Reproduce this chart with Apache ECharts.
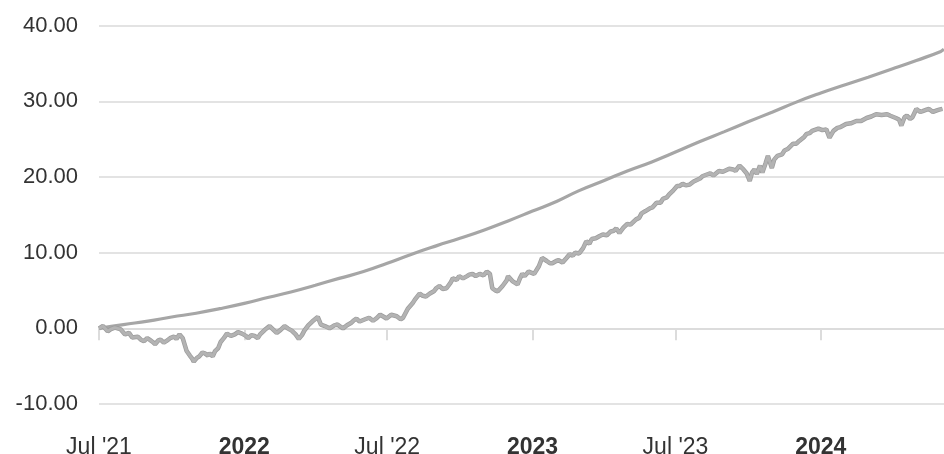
<!DOCTYPE html>
<html><head><meta charset="utf-8">
<script src="https://cdn.jsdelivr.net/npm/echarts@6/dist/echarts.min.js"></script>
<style>html,body{margin:0;padding:0;background:#fff}#c{width:944px;height:454px}</style>
</head><body><div id="c"></div>
<script>
// X-axis tick dates (half-yearly)
const tickDates = ['2021-07-01','2022-01-01','2022-07-01','2023-01-01','2023-07-01','2024-01-01'];
// Y-axis ticks
const yTicks = [-10, 0, 10, 20, 30, 40];

// Upper smooth line (monthly)
const upperDates = ['2021-07-01','2021-08-01','2021-09-01','2021-10-01','2021-11-01','2021-12-01',
'2022-01-01','2022-02-01','2022-03-01','2022-04-01','2022-05-01','2022-06-01','2022-07-01','2022-08-01','2022-09-01','2022-10-01','2022-11-01','2022-12-01',
'2023-01-01','2023-02-01','2023-03-01','2023-04-01','2023-05-01','2023-06-01','2023-07-01','2023-08-01','2023-09-01','2023-10-01','2023-11-01','2023-12-01',
'2024-01-01','2024-02-01','2024-03-01','2024-04-01','2024-05-01','2024-06-01','2024-06-05'];
const upperValues = [0.0,0.5,0.95,1.5,2.0,2.6,
3.3,4.1,4.8,5.7,6.6,7.5,8.6,9.8,10.9,11.9,13.0,14.2,
15.5,16.8,18.2,19.5,20.8,22.0,23.3,24.7,26.0,27.3,28.6,29.9,
31.1,32.2,33.2,34.3,35.4,36.6,36.9];

// Lower noisy line
const lowerDates = [
'2021-07-01','2021-07-06','2021-07-12','2021-07-16','2021-07-21','2021-07-28','2021-08-03','2021-08-08','2021-08-12','2021-08-19','2021-08-23','2021-08-27','2021-08-31',
'2021-09-03','2021-09-07','2021-09-10','2021-09-14','2021-09-17','2021-09-21','2021-09-24','2021-09-29','2021-10-04','2021-10-07','2021-10-11','2021-10-15','2021-10-20','2021-10-24',
'2021-10-27','2021-10-29','2021-11-02','2021-11-05','2021-11-09','2021-11-12','2021-11-16','2021-11-18','2021-11-22','2021-11-25','2021-11-29','2021-12-02','2021-12-06','2021-12-10',
'2021-12-15','2021-12-20','2021-12-24','2021-12-29',
'2022-01-03','2022-01-06','2022-01-10','2022-01-14','2022-01-18','2022-01-21','2022-01-27','2022-02-02','2022-02-07','2022-02-11','2022-02-16','2022-02-21','2022-02-25',
'2022-03-02','2022-03-07','2022-03-11','2022-03-15','2022-03-18','2022-03-23','2022-03-28','2022-04-04','2022-04-08','2022-04-13','2022-04-19','2022-04-25','2022-04-29',
'2022-05-03','2022-05-06','2022-05-11','2022-05-16','2022-05-19','2022-05-23','2022-05-27','2022-06-03','2022-06-08','2022-06-13','2022-06-17','2022-06-22','2022-06-27','2022-06-30',
'2022-07-06','2022-07-13','2022-07-18','2022-07-21','2022-07-27','2022-08-02','2022-08-05','2022-08-11','2022-08-15','2022-08-19','2022-08-24','2022-08-29',
'2022-09-01','2022-09-05','2022-09-09','2022-09-14','2022-09-19','2022-09-22','2022-09-27','2022-09-30','2022-10-05','2022-10-10','2022-10-13','2022-10-17','2022-10-21','2022-10-26','2022-10-31',
'2022-11-04','2022-11-08','2022-11-11','2022-11-15','2022-11-18','2022-11-24','2022-11-29','2022-12-01','2022-12-07','2022-12-13','2022-12-16','2022-12-19','2022-12-22','2022-12-27',
'2023-01-03','2023-01-09','2023-01-13','2023-01-19','2023-01-23','2023-01-26','2023-01-31','2023-02-03','2023-02-08','2023-02-13','2023-02-17','2023-02-21','2023-02-24',
'2023-03-01','2023-03-06','2023-03-10','2023-03-14','2023-03-17','2023-03-22','2023-03-27','2023-03-31','2023-04-05','2023-04-10','2023-04-14','2023-04-17','2023-04-21','2023-04-26',
'2023-05-01','2023-05-05','2023-05-09','2023-05-12','2023-05-16','2023-05-19','2023-05-24','2023-05-30','2023-06-02','2023-06-07','2023-06-12','2023-06-15','2023-06-20','2023-06-23','2023-06-28',
'2023-07-03','2023-07-06','2023-07-10','2023-07-14','2023-07-19','2023-07-24','2023-07-28','2023-08-01','2023-08-04','2023-08-09','2023-08-14','2023-08-18','2023-08-25','2023-08-30',
'2023-09-07','2023-09-12','2023-09-15','2023-09-20','2023-09-25','2023-09-29','2023-10-03','2023-10-06','2023-10-09','2023-10-12','2023-10-16','2023-10-19','2023-10-23','2023-10-26','2023-10-31',
'2023-11-03','2023-11-07','2023-11-13','2023-11-16','2023-11-20','2023-11-27','2023-12-01','2023-12-05','2023-12-11','2023-12-14','2023-12-18','2023-12-21','2023-12-29',
'2024-01-03','2024-01-08','2024-01-12','2024-01-17','2024-01-22','2024-01-26','2024-02-02','2024-02-08','2024-02-15','2024-02-21','2024-02-28','2024-03-05','2024-03-11','2024-03-18',
'2024-03-25','2024-03-29','2024-04-05','2024-04-09','2024-04-12','2024-04-16','2024-04-19','2024-04-23','2024-04-26','2024-05-01','2024-05-06','2024-05-09','2024-05-14','2024-05-17',
'2024-05-22','2024-05-27','2024-05-30','2024-06-03'];
const lowerValues = [
0.0,0.3,-0.4,-0.1,0.1,-0.1,-0.8,-0.6,-1.2,-1.1,-1.5,-1.7,-1.3,
-1.5,-1.8,-2.1,-1.6,-1.5,-1.9,-1.7,-1.3,-1.1,-1.4,-0.8,-1.3,-3.0,-3.6,
-4.0,-4.4,-3.9,-3.7,-3.2,-3.3,-3.6,-3.3,-3.7,-3.0,-2.6,-1.8,-1.3,-0.7,
-1.0,-0.8,-0.5,-0.7,
-1.0,-1.3,-0.9,-1.0,-1.3,-0.8,-0.2,0.3,-0.2,-0.6,-0.2,0.3,0.0,
-0.3,-0.8,-1.4,-0.9,-0.3,0.4,0.9,1.5,0.5,0.3,0.0,0.4,0.5,
0.2,0.0,0.4,0.7,1.0,1.3,0.9,1.2,1.4,1.0,1.3,1.8,1.5,1.3,
1.8,1.6,1.2,1.4,2.6,3.3,3.8,4.6,4.3,4.2,4.6,4.9,
5.3,5.6,5.2,5.3,6.0,6.6,6.4,6.9,6.6,6.9,7.1,7.2,6.9,7.2,7.0,
7.5,7.2,5.3,5.0,4.9,5.6,6.3,6.9,6.2,5.8,6.6,7.2,6.9,7.5,
7.2,8.2,9.3,8.9,8.6,8.6,8.9,9.0,8.7,9.3,9.8,9.6,10.0,
9.9,10.6,11.5,11.2,11.8,11.9,12.2,12.4,12.3,12.8,12.9,13.2,12.6,13.3,
13.8,13.7,14.1,14.4,14.6,15.2,15.5,15.9,16.0,16.6,16.6,17.1,17.3,17.7,18.2,
18.8,18.8,19.1,18.9,19.0,19.4,19.6,19.8,20.1,20.3,20.5,20.2,20.8,20.7,
21.1,21.0,20.8,21.5,21.0,20.5,19.5,20.6,21.0,20.4,21.5,20.6,21.8,22.8,21.2,
22.3,22.8,23.0,23.5,23.7,24.4,24.4,24.8,25.3,25.7,25.8,26.1,26.4,
26.2,26.3,25.2,26.1,26.5,26.6,27.0,27.1,27.4,27.4,27.8,28.0,28.3,28.2,
28.3,28.1,27.8,27.6,26.8,27.9,28.1,27.7,27.9,29.0,28.6,28.7,28.9,29.0,
28.6,28.8,28.9,29.0];

function ts(s) { const p = s.split('-').map(Number); return new Date(p[0], p[1] - 1, p[2]).getTime(); }
const zip = (d, v) => d.map((x, i) => [ts(x), v[i]]);
const MON = ['Jan','Feb','Mar','Apr','May','Jun','Jul','Aug','Sep','Oct','Nov','Dec'];
const FONT = 'Liberation Sans, Arial, sans-serif';
const tickTs = tickDates.map(ts);
const chart = echarts.init(document.getElementById('c'), null, {renderer: 'canvas'});
chart.setOption({
  animation: false,
  grid: {left: 99, right: 0, top: 25.7, bottom: 50, containLabel: false, outerBoundsMode: 'none'},
  xAxis: {
    type: 'value',
    min: ts('2021-07-01'), max: ts('2024-06-05'),
    axisLine: {show: true, lineStyle: {color: '#dcdcdc', width: 2}},
    axisTick: {show: true, length: 12, customValues: tickTs, lineStyle: {color: '#dcdcdc', width: 2}},
    splitLine: {show: false},
    axisLabel: {
      customValues: tickTs,
      fontFamily: FONT, fontSize: 23, color: '#333', margin: 32,
      showMinLabel: true, hideOverlap: false,
      formatter: function (val) {
        const d = new Date(val);
        if (d.getMonth() === 0) return '{b|' + d.getFullYear() + '}';
        return MON[d.getMonth()] + " '" + String(d.getFullYear()).slice(2);
      },
      rich: {b: {fontWeight: 'bold', fontSize: 23, color: '#333', fontFamily: FONT}}
    }
  },
  yAxis: {
    type: 'value', min: yTicks[0], max: yTicks[yTicks.length - 1], interval: 10,
    axisLine: {show: false}, axisTick: {show: false},
    splitLine: {show: true, lineStyle: {color: '#e3e3e3', width: 2}},
    axisLabel: {
      fontFamily: FONT, fontSize: 22, color: '#333', margin: 21,
      formatter: v => v.toFixed(2)
    }
  },
  series: [
    {type: 'line', data: zip(upperDates, upperValues), showSymbol: false, smooth: true,
     lineStyle: {color: '#a6a6a6', width: 3.2}},
    {type: 'line', data: zip(lowerDates, lowerValues), showSymbol: false,
     lineStyle: {color: '#9c9c9c', width: 4.5}},
    {type: 'line', data: zip(lowerDates, lowerValues), showSymbol: false,
     lineStyle: {color: '#b3b3b3', width: 3}}
  ]
});
</script></body></html>
